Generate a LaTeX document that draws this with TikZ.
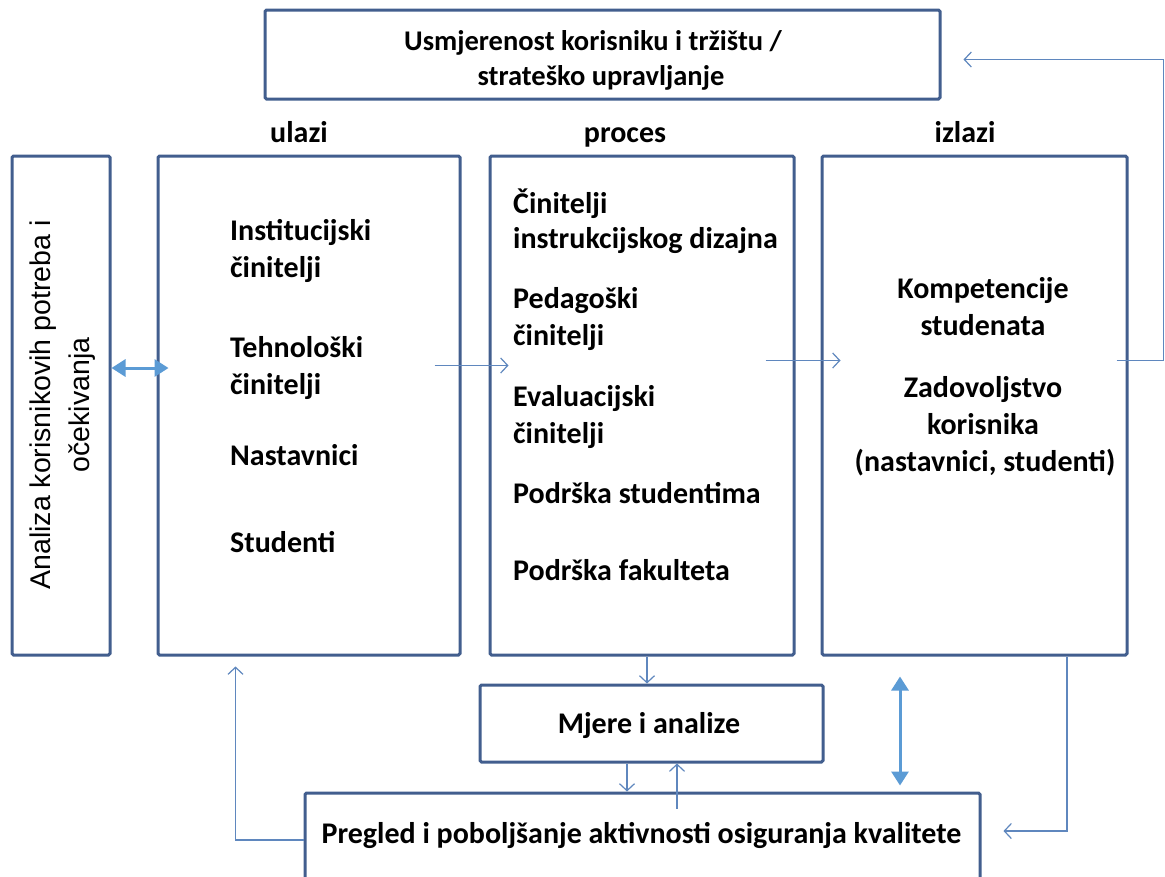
\documentclass[tikz,border=0pt]{standalone}
\usepackage{fontspec}
\setmainfont{Carlito}
\newfontfamily\arialf{Liberation Sans}
\usetikzlibrary{arrows.meta,calc}
\definecolor{boxc}{RGB}{66,94,142}
\definecolor{linec}{RGB}{95,135,190}
\definecolor{thickc}{RGB}{91,155,213}
\begin{document}
\begin{tikzpicture}[x=1pt,y=-1pt,
  box/.style={draw=boxc, line width=3pt, inner sep=0pt, fill=white, rounded corners=1.5pt},
  tx/.style={font=\fontsize{30}{36}\selectfont\bfseries, inner sep=0pt, anchor=base west},
  txc/.style={tx, anchor=base},
  ttx/.style={font=\fontsize{28.5}{34}\selectfont\bfseries, inner sep=0pt, anchor=base},
  thinarrow/.style={draw=linec, line width=1.2pt, -{Straight Barb[length=7pt,width=15pt]}},
  thickarrow/.style={draw=thickc, line width=3pt, {Triangle[length=14pt,width=17pt]}-{Triangle[length=14pt,width=17pt]}},
]
\useasboundingbox (0,0) rectangle (1165,876);
\fill[white] (0,0) rectangle (1165,876);
\clip (0,0) rectangle (1165,876);

% boxes
\node[box, minimum width=675pt, minimum height=89pt] (top) at (602.5,54.5) {};
\node[box, minimum width=98pt, minimum height=499pt] (lbox) at (61,405.5) {};
\node[box, minimum width=302pt, minimum height=499pt] (ulazi) at (309,405.5) {};
\node[box, minimum width=304pt, minimum height=499pt] (proces) at (642,405.5) {};
\node[box, minimum width=305pt, minimum height=499pt] (izlazi) at (974.5,405.5) {};
\node[box, minimum width=343pt, minimum height=77pt] (mjere) at (651.5,723.5) {};
\node[box, minimum width=675pt, minimum height=107pt] (pregled) at (642.5,846.5) {};

% helper coordinates
\coordinate (y368) at (0,368);
\coordinate (y840) at (0,840);
\coordinate (x647) at (647,0);
\coordinate (x627) at (627,0);
\coordinate (x677) at (677,0);
\coordinate (x900) at (900,0);

% top text
\node[ttx] (t1) at (593,50) {Usmjerenost korisniku i tržištu /};
\node[ttx] (t2) at (601,85) {strateško upravljanje};

% headers
\node[txc] (h1) at (299,142) {ulazi};
\node[txc] (h2) at (625,142) {proces};
\node[txc] (h3) at (965,142) {izlazi};

% left rotated text
\node[rotate=90, inner sep=0pt, align=center, font=\arialf\fontsize{28.5}{39}\selectfont] (ltext) at (62.5,405) {Analiza korisnikovih potreba i\\očekivanja};

% ulazi texts
\node[tx] (u1) at (230,240) {Institucijski};
\node[tx] (u2) at (230,277) {činitelji};
\node[tx] (u3) at (230,357) {Tehnološki};
\node[tx] (u4) at (230,394) {činitelji};
\node[tx] (u5) at (230,465) {Nastavnici};
\node[tx] (u6) at (230,552) {Studenti};

% proces texts
\node[tx] (p1) at (513,213) {Činitelji};
\node[tx] (p2) at (513,248) {instrukcijskog dizajna};
\node[tx] (p3) at (513,308) {Pedagoški};
\node[tx] (p4) at (513,345) {činitelji};
\node[tx] (p5) at (513,406) {Evaluacijski};
\node[tx] (p6) at (513,443) {činitelji};
\node[tx] (p7) at (513,503) {Podrška studentima};
\node[tx] (p8) at (513,580) {Podrška fakulteta};

% izlazi texts
\node[txc] (i1) at (983,298) {Kompetencije};
\node[txc] (i2) at (983,335) {studenata};
\node[txc] (i3) at (983,397) {Zadovoljstvo};
\node[txc] (i4) at (983,434) {korisnika};
\node[txc] (i5) at (985,471) {(nastavnici, studenti)};

% bottom texts
\node[txc] (mt) at (649,733) {Mjere i analize};
\node[txc] (pt) at (641.5,843) {Pregled i poboljšanje aktivnosti osiguranja kvalitete};

% connectors
\draw[thickarrow] (lbox.east |- y368) -- ($(ulazi.west |- y368)+(12,0)$);
\draw[thinarrow] ($(ulazi.north east)+(-27,211)$) -- ($(proces.north west)+(20,211)$);
\draw[thinarrow] ($(proces.north east)+(-30,206)$) -- ($(izlazi.north west)+(20,206)$);
\draw[thinarrow] ($(izlazi.north east)+(-12,206)$) -- ++(47,0) |- ($(top.east)+(22,5)$);
\draw[thinarrow] (proces.south -| x647) -- (mjere.north -| x647);
\draw[thinarrow] (mjere.south -| x627) -- (pregled.north -| x627);
\draw[thinarrow] ($(pregled.north -| x677)+(0,17)$) -- (mjere.south -| x677);
\draw[thinarrow] (pregled.west |- y840) -| ($(ulazi.south west)+(79,10)$);
\draw[thinarrow] ($(izlazi.south)+(92.5,0)$) |- ($(pregled.east)+(22,-15.5)$);
\draw[thickarrow] ($(izlazi.south -| x900)+(0,20)$) -- ($(pregled.north -| x900)+(0,-6)$);
\end{tikzpicture}
\end{document}
